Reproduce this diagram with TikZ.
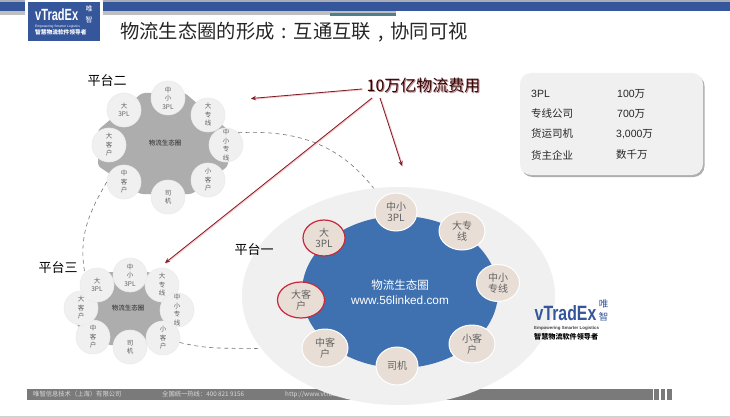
\documentclass[tikz,border=0pt]{standalone}
\usepackage{fontspec}
\setmainfont{Noto Sans CJK SC}
\newfontfamily\latinf{Liberation Sans}
\usetikzlibrary{shapes.geometric,arrows.meta,shadows}
\definecolor{hdrblue}{HTML}{35569B}
\definecolor{hdrgray}{HTML}{A9ADB8}
\definecolor{teal2}{HTML}{4F7F8C}
\definecolor{bluemain}{HTML}{3F70B0}
\definecolor{beige}{HTML}{E8DED6}
\definecolor{redc}{HTML}{C8283C}
\definecolor{darkred}{HTML}{7A1E2A}
\definecolor{barg}{HTML}{7A7A7A}
\definecolor{gcirc}{HTML}{F0F0F0}
\newcommand\pcell[1]{\makebox[1em]{#1}}
\tikzset{
  bigc/.style={ellipse,fill=beige,draw=white,line width=1pt,inner sep=0pt,font=\fontsize{10}{11.5}\selectfont,text=black!62,align=center},
  bigr/.style={bigc,draw=redc,line width=1.2pt},
  smallc/.style={circle,minimum size=34pt,fill=gcirc,draw=black!8,line width=.6pt,inner sep=0pt,font=\fontsize{6.5}{8.5}\selectfont,text=black!62,align=center},
  platlabel/.style={inner sep=0pt,font=\fontsize{13}{14}\selectfont},
  cellt/.style={inner sep=0pt,anchor=west,font=\fontsize{10.5}{12}\selectfont,text=black!85},
  ringdash/.style={draw=black!55,dashed,dash pattern=on 4pt off 3.5pt,line width=.6pt},
  costarrow/.style={draw=darkred,line width=.8pt,-{Stealth[length=5pt,width=4.5pt]},
     preaction={draw=red!22,line width=1.6pt,-,transform canvas={shift={(.7pt,-.5pt)}}}},
  foot/.style={inner sep=0pt,anchor=west,text=white!85!black,font=\fontsize{6.3}{7}\selectfont}
}
\begin{document}
\begin{tikzpicture}[x=1pt,y=-1pt]
\useasboundingbox (0,0) rectangle (730,417);
\fill[white] (0,0) rectangle (730,417);
% header
\fill[hdrgray] (0,0) rectangle (730,2.5);
\fill[hdrblue] (0,2.5) rectangle (730,11);
\fill[black!25] (0,11) rectangle (396,13);
\fill[teal2] (330,13) rectangle (396,16);
\fill[black!25] (0,13) rectangle (330,15);
\fill[white] (25,0) rectangle (103,44);
\fill[hdrblue] (28,2) rectangle (100,41);
\node[inner sep=0pt,anchor=west,text=white] (lv) at (35,14.5) {\latinf\bfseries\fontsize{13.5}{14}\selectfont\scalebox{.82}[1.2]{vTradEx}};
\node[inner sep=0pt,text=white,align=center] (lw) at (89,14.5) {\fontsize{7}{8}\selectfont 唯\\[-.5pt]\fontsize{7}{8}\selectfont 智};
\node[inner sep=0pt,anchor=west,text=white] (ls) at (35,26.5) {\latinf\fontsize{3.3}{3.5}\selectfont Empowering Smarter Logistics};
\node[inner sep=0pt,anchor=west,text=white] (lc) at (35,32.5) {\fontsize{5.7}{6}\selectfont\bfseries 智慧物流软件领导者};
\node[inner sep=0pt,anchor=west,text=black!85] (title) at (120,32.5) {\fontsize{19.3}{20}\selectfont 物流生态圈的形成\pcell{:}互通互联\pcell{,}协同可视};
% footer
\fill[barg] (27,389) rectangle (653,400);
\fill[barg] (654,389) rectangle (659,400);
\fill[barg] (661,389) rectangle (665,400);
\fill[barg] (667,389) rectangle (672,400);
\fill[black!18] (0,415.5) rectangle (730,417);
\node[foot] (f1) at (33,394.5) {唯智信息技术（上海）有限公司};
\node[foot] (f2) at (162,394.5) {全国统一热线：400 821 9156};
\node[foot] (f3) at (285,394.5) {http://www.vtradex.com};
% platform 1
\node[ellipse,minimum width=313pt,minimum height=218pt,fill=black!6,inner sep=0pt] (p1out) at (398.5,296) {};
\node[ellipse,minimum width=196pt,minimum height=152pt,fill=bluemain,inner sep=0pt] (p1c) at (400,292) {};
\node[inner sep=0pt,text=white,align=center,font=\fontsize{11.5}{15}\selectfont] (p1t) at (400,292) {物流生态圈\\{\latinf\fontsize{11.8}{15}\selectfont www.56linked.com}};
\node[bigc,minimum width=42pt,minimum height=38pt] (a1) at (396,212) {中小\\3PL};
\node[bigc,minimum width=46pt,minimum height=38pt] (a2) at (462,231) {大专\\线};
\node[bigc,minimum width=43pt,minimum height=37pt] (a3) at (498,283) {中小\\专线};
\node[bigc,minimum width=46pt,minimum height=38pt] (a4) at (472,344) {小客\\户};
\node[bigc,minimum width=42pt,minimum height=38pt] (a5) at (397,366) {司机};
\node[bigc,minimum width=46pt,minimum height=38pt] (a6) at (325,348) {中客\\户};
\node[bigr,minimum width=47pt,minimum height=36pt] (a7) at (301,300) {大客\\户};
\node[bigr,minimum width=42pt,minimum height=36pt] (a8) at (324,238) {大\\3PL};
% platform 2
\fill[black!32,rounded corners=3pt] (142,93) -- (185,93) -- (228,130) -- (228,166) -- (192,194) -- (140,194) -- (98,166) -- (98,130) -- cycle;
\node[inner sep=0pt,font=\fontsize{6.5}{8}\selectfont,text=black!85] (p2t) at (165,143) {物流生态圈};
\node[smallc] (b1) at (168,98) {中\\小\\3PL};
\node[smallc] (b2) at (208,115) {大\\专\\线};
\node[smallc] (b3) at (226,145) {中\\小\\专\\线};
\node[smallc] (b4) at (208,180) {小\\客\\户};
\node[smallc] (b5) at (168,197) {司\\机};
\node[smallc] (b6) at (124,182) {中\\客\\户};
\node[smallc] (b7) at (109,145) {大\\客\\户};
\node[smallc] (b8) at (124,110) {大\\3PL};
% platform 3
\fill[black!32,rounded corners=3pt] (108,272) -- (150,272) -- (178,296) -- (178,325) -- (148,345) -- (108,345) -- (76,325) -- (76,295) -- cycle;
\node[inner sep=0pt,font=\fontsize{6.5}{8}\selectfont,text=black!85] (p3t) at (128,308) {物流生态圈};
\node[smallc] (c1) at (130,275) {中\\小\\3PL};
\node[smallc] (c2) at (162,285) {大\\专\\线};
\node[smallc] (c3) at (177,310) {中\\小\\专\\线};
\node[smallc] (c4) at (163,338) {小\\客\\户};
\node[smallc] (c5) at (130,347) {司\\机};
\node[smallc] (c6) at (93,337) {中\\客\\户};
\node[smallc] (c7) at (81,308) {大\\客\\户};
\node[smallc] (c8) at (97,285) {大\\3PL};
% dashed ring
\draw[ringdash] (b3.45) to[out=3,in=128] (p1out.103);
\draw[ringdash] (b6.180) to[out=240,in=100] (c8.135);
\draw[ringdash] (c4.-15) to[out=-14,in=178] (p1out.201);
% labels
\node[platlabel] (l2) at (107,81) {平台二};
\node[platlabel] (l3) at (58,268) {平台三};
\node[platlabel] (l1) at (254,250) {平台一};
% info box
\node[rounded corners=11pt,minimum width=183pt,minimum height=102pt,fill=black!6,drop shadow={shadow xshift=1.5pt,shadow yshift=-2pt,fill=black!45,opacity=.7},inner sep=0pt] (info) at (611.5,124) {};
\node[cellt] (i1) at (531,94) {\latinf 3PL};
\node[cellt] (i2) at (531,114) {专线公司};
\node[cellt] (i3) at (531,134) {货运司机};
\node[cellt] (i4) at (531,155) {货主企业};
\node[cellt] (v1) at (617,94) {\latinf 100\rmfamily 万};
\node[cellt] (v2) at (617,114) {\latinf 700\rmfamily 万};
\node[cellt] (v3) at (616,134) {\latinf 3,000\rmfamily 万};
\node[cellt] (v4) at (616,155) {数千万};
% cost label
\node[inner sep=0pt,text=darkred!55,font=\fontsize{16}{17}\selectfont] (costs) at (424.5,86.5) {10万亿物流费用};
\node[inner sep=0pt,text=black!80!red,font=\fontsize{16}{17}\selectfont] (cost) at (423.5,85.5) {10万亿物流费用};
\coordinate (s2) at (362,89);
\coordinate (s3) at (372,98);
\coordinate (s1) at (380,98);
\coordinate (tip2) at (251,98.5);
\coordinate (tip3) at (165,263);
\coordinate (tip1) at (402,166);
\draw[costarrow] (s2) -- (tip2);
\draw[costarrow] (s3) -- (tip3);
\draw[costarrow] (s1) -- (tip1);
% right logo
\node[inner sep=0pt,anchor=west,text=hdrblue] (rv) at (534.5,313.5) {\latinf\bfseries\fontsize{18}{19}\selectfont\scalebox{.88}[1.15]{vTradEx}};
\node[inner sep=0pt,text=hdrblue,align=center] (rw) at (603.5,310.5) {\fontsize{9.5}{11}\selectfont 唯\\[.5pt]\fontsize{9.5}{11}\selectfont 智};
\node[inner sep=0pt,anchor=west,text=black!75] (rs) at (534,328) {\latinf\bfseries\fontsize{4.4}{4.6}\selectfont Empowering Smarter Logistics};
\node[inner sep=0pt,anchor=west,text=black] (rc) at (534,336.5) {\fontsize{7.1}{7.5}\selectfont\bfseries 智慧物流软件领导者};
\end{tikzpicture}
\end{document}
